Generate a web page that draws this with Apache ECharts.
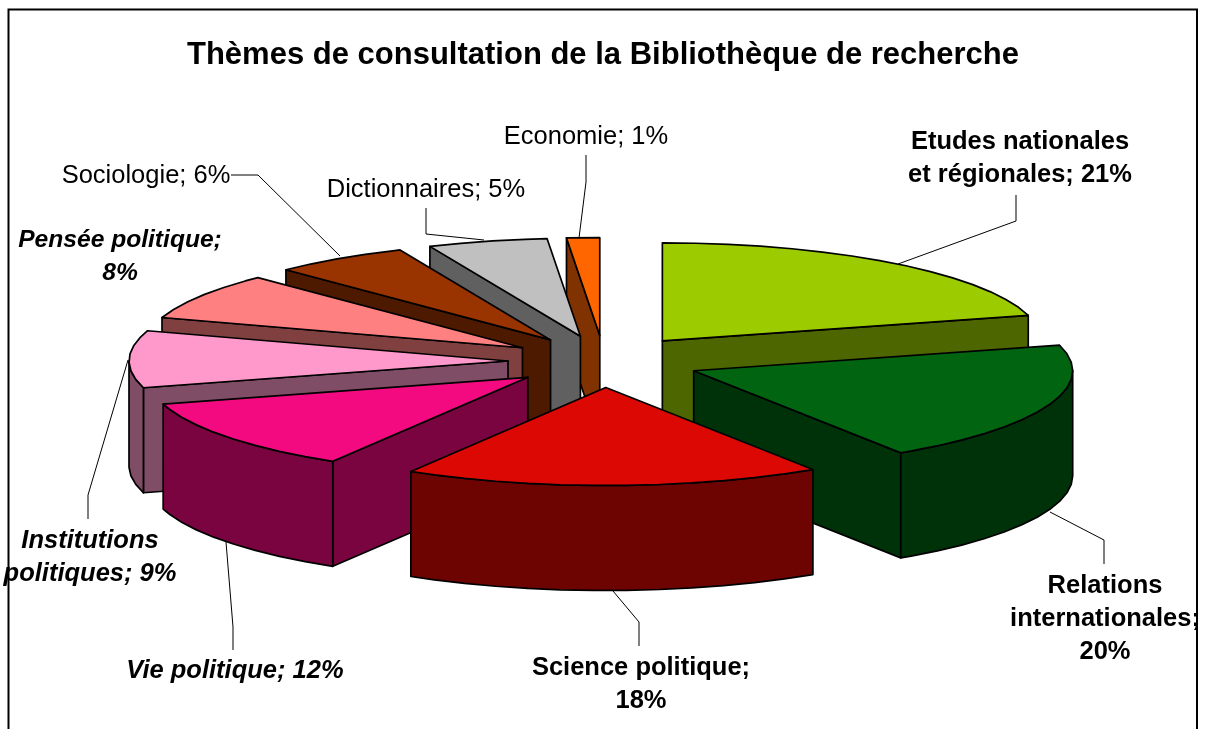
<!DOCTYPE html>
<html>
<head>
<meta charset="utf-8">
<style>html,body{margin:0;padding:0;background:#fff}#c{width:1205px;height:729px}</style>
<script src="https://cdn.jsdelivr.net/npm/echarts@6/dist/echarts.min.js"></script>
</head>
<body>
<div id="c"></div>
<script>
// ---- data ----
const chartTitle = 'Thèmes de consultation de la Bibliothèque de recherche';
const categories = ['Etudes nationales\net régionales', 'Relations\ninternationales', 'Science politique', 'Vie politique', 'Institutions\npolitiques', 'Pensée politique', 'Sociologie', 'Dictionnaires', 'Economie'];
const shares = [20.8, 20.0, 17.8, 12.0, 9.4, 7.7, 5.8, 5.1, 1.4];
const labelBreaks = [' ', '\n', '\n', ' ', ' ', '\n', ' ', ' ', ' '];
const topColors = ['#9ccc00', '#006411', '#dc0804', '#f40a80', '#ff99cc', '#ff8080', '#993300', '#c0c0c0', '#ff6600'];
const wallColors = ['#4e6600', '#00320a', '#6e0402', '#7a0440', '#804d66', '#804040', '#4d1a00', '#606060', '#803300'];
const drawRanks = [3, 7, 8, 6, 5, 4, 2, 1, 0];

// ---- layout & style ----
const CX = 604, CY = 361.5, RX = 379, RY = 98, EX = 96, EY = 26, DEPTH = 105, STEP = 5;
const labelStyles = [
  {x: 1020, y: 158, w: 'bold', s: 'normal', size: 25.5},
  {x: 1105, y: 619, w: 'bold', s: 'normal', size: 25.5},
  {x: 641, y: 684, w: 'bold', s: 'normal', size: 25.5},
  {x: 235, y: 671, w: 'bold', s: 'italic', size: 25.5},
  {x: 90, y: 557.5, w: 'bold', s: 'italic', size: 25.5},
  {x: 120, y: 256.5, w: 'bold', s: 'italic', size: 24.6},
  {x: 146, y: 176, w: 'normal', s: 'normal', size: 25.5},
  {x: 426, y: 190, w: 'normal', s: 'normal', size: 25.5},
  {x: 586, y: 137, w: 'normal', s: 'normal', size: 25.5}
];
const leaderPaths = [
  [[1016, 195], [1016, 221], [898, 264]],
  [[1050, 512], [1104, 540], [1104, 564]],
  [[613, 591], [639, 622], [639, 646]],
  [[226, 542], [233, 627], [233, 650]],
  [[128, 360], [88, 495], [88, 519]],
  [[231, 175], [258, 175], [340, 256]],
  [[426, 208], [426, 234], [484, 240]],
  [[586, 155], [586, 182], [579, 238]]
];

const rad = d => d * Math.PI / 180;
const slices = [];
let acc = 0;
shares.forEach((v, i) => {
  const a0 = acc / 100 * 360;
  acc += v;
  slices.push([a0, acc / 100 * 360, i]);
});

function renderSlice(params, api) {
  const a0 = api.value(0), a1 = api.value(1), idx = api.value(2);
  const mid = rad((a0 + a1) / 2);
  const tx = CX + EX * Math.sin(mid), ty = CY - EY * Math.cos(mid);
  const rim = a => [tx + RX * Math.sin(rad(a)), ty - RY * Math.cos(rad(a))];
  const down = p => [p[0], p[1] + DEPTH];
  const arc = (from, to) => {
    const pts = [];
    for (let a = from; a < to - 0.01; a += STEP) pts.push(rim(a));
    pts.push(rim(to));
    return pts;
  };
  const base = drawRanks[idx] * 10;
  const shape = (points, fill, z) => ({
    type: 'polygon', z2: base + z,
    shape: {points},
    style: {fill, stroke: '#000', lineWidth: 1.7, lineJoin: 'round'}
  });
  const kids = [];
  const tip = [tx, ty];
  const s = Math.sin(rad(a0)), e = Math.sin(rad(a1));
  if (s < -0.001) {
    const r = rim(a0);
    kids.push(shape([tip, r, down(r), down(tip)], wallColors[idx], 1));
  }
  if (e > 0.001) {
    const r = rim(a1);
    kids.push(shape([tip, r, down(r), down(tip)], wallColors[idx], 1));
  }
  const f = Math.max(a0, 90), t = Math.min(a1, 270);
  if (f < t) {
    const top = arc(f, t);
    kids.push(shape(top.concat(top.slice().reverse().map(down)), wallColors[idx], 2));
  }
  kids.push(shape([tip].concat(arc(a0, a1)), topColors[idx], 3));
  return {type: 'group', children: kids};
}

const graphics = [{
  type: 'rect', z: 0, silent: true,
  shape: {x: 8.5, y: 9.5, width: 1188.5, height: 735},
  style: {fill: 'none', stroke: '#000', lineWidth: 2}
}];
leaderPaths.forEach(p => graphics.push({
  type: 'polyline', silent: true, z: 1, shape: {points: p},
  style: {fill: 'none', stroke: '#000', lineWidth: 1}
}));
categories.forEach((name, i) => {
  const l = labelStyles[i];
  graphics.push({
    type: 'text', silent: true, z: 5, x: l.x, y: l.y,
    style: {
      text: name + ';' + labelBreaks[i] + Math.round(shares[i]) + '%',
      fontFamily: '"Liberation Sans", Arial, sans-serif',
      fontSize: l.size, fontWeight: l.w, fontStyle: l.s,
      lineHeight: 33, align: 'center', verticalAlign: 'middle', fill: '#000'
    }
  });
});

const chart = echarts.init(document.getElementById('c'), null, {renderer: 'canvas', width: 1205, height: 729});
chart.setOption({
  animation: false,
  backgroundColor: '#fff',
  title: {
    text: chartTitle, left: 603, top: 35, textAlign: 'center',
    textStyle: {fontFamily: '"Liberation Sans", Arial, sans-serif', fontSize: 31, fontWeight: 'bold', color: '#000'}
  },
  graphic: graphics,
  series: [{
    type: 'custom', coordinateSystem: 'none', silent: true,
    data: slices, renderItem: renderSlice, clip: false
  }]
});
chart.setOption({title: {left: 598}});
</script>
</body>
</html>
